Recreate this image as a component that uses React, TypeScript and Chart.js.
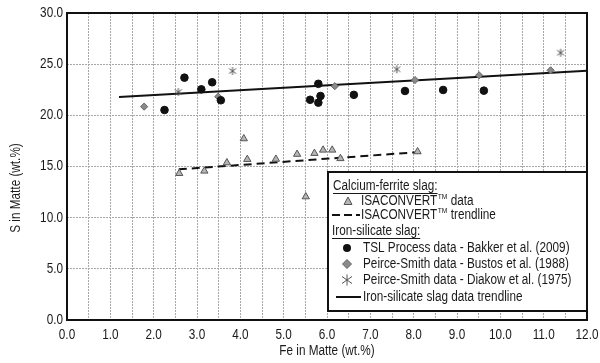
import React, { useEffect, useRef } from 'react';
import { Chart, registerables } from 'chart.js';
Chart.register(...registerables);

// ---- data ----
const isaX = [2.59, 3.17, 3.69, 4.08, 4.16, 4.82, 5.31, 5.51, 5.71, 5.91, 6.12, 6.31, 8.09];
const isaY = [14.33, 14.56, 15.37, 17.72, 15.7, 15.72, 16.2, 12.05, 16.29, 16.61, 16.61, 15.78, 16.45];
const isaTrendX = [2.58, 8.03];
const isaTrendY = [14.72, 16.38];
const tslX = [2.25, 2.71, 3.1, 3.35, 3.55, 5.61, 5.8, 5.8, 5.85, 6.62, 7.8, 8.68, 9.62];
const tslY = [20.52, 23.68, 22.54, 23.23, 21.47, 21.52, 23.08, 21.24, 21.89, 22.0, 22.38, 22.48, 22.41];
const bustosX = [1.78, 3.49, 6.18, 8.03, 9.51, 11.16];
const bustosY = [20.85, 21.82, 22.85, 23.45, 23.91, 24.4];
const diakowX = [2.57, 3.82, 7.61, 11.39];
const diakowY = [22.28, 24.33, 24.5, 26.12];
const silTrendX = [1.2, 12.0];
const silTrendY = [21.8, 24.36];
const xTickMin = 0;
const xTickMax = 12;
const yTickMin = 0;
const yTickMax = 30;
const xTitle = 'Fe in Matte (wt.%)';
const yTitle = 'S in Matte (wt.%)';

const FONT = '"Liberation Sans", Arial, sans-serif';
const K = 0.84; // horizontal condensing of the narrow typeface

const pts = (xs: number[], ys: number[]) => xs.map((x, i) => ({ x, y: ys[i] }));

function makeAsterisk(): HTMLCanvasElement {
  const c = document.createElement('canvas');
  c.width = 10;
  c.height = 10;
  const g = c.getContext('2d')!;
  g.strokeStyle = '#555';
  g.lineWidth = 1;
  g.beginPath();
  g.moveTo(5, 1); g.lineTo(5, 9);
  g.moveTo(1.5, 2.5); g.lineTo(8.5, 7.5);
  g.moveTo(1.5, 7.5); g.lineTo(8.5, 2.5);
  g.stroke();
  return c;
}

function cText(ctx: CanvasRenderingContext2D, t: string, x: number, y: number, align: CanvasTextAlign) {
  ctx.save();
  ctx.translate(x, y);
  ctx.scale(K, 1);
  ctx.textAlign = align;
  ctx.fillText(t, 0, 0);
  ctx.restore();
}

const overlay = {
  id: 'overlay',
  afterDraw(chart: any) {
    const ctx = chart.ctx as CanvasRenderingContext2D;
    const a = chart.chartArea;
    const xs = chart.scales.x;
    const ys = chart.scales.y;
    ctx.save();
    // plot border
    ctx.strokeStyle = '#111';
    ctx.lineWidth = 2;
    ctx.strokeRect(a.left, a.top, a.right - a.left, a.bottom - a.top);

    // tick labels
    ctx.fillStyle = '#1a1a1a';
    ctx.font = `14px ${FONT}`;
    ctx.textBaseline = 'middle';
    xs.ticks.forEach((t: any) => {
      if (Number.isInteger(t.value)) {
        cText(ctx, Number(t.value).toFixed(1), xs.getPixelForValue(t.value), a.bottom + 15, 'center');
      }
    });
    ys.ticks.forEach((t: any) => {
      cText(ctx, Number(t.value).toFixed(1), a.left - 4, ys.getPixelForValue(t.value), 'right');
    });

    // axis titles
    cText(ctx, xTitle, (a.left + a.right) / 2, 351, 'center');
    ctx.save();
    ctx.translate(16, 188);
    ctx.rotate(-Math.PI / 2);
    cText(ctx, yTitle, 0, 0, 'center');
    ctx.restore();

    // legend box
    const lx = 328, ly = 172, lw = a.right - 328, lh = 139;
    ctx.fillStyle = '#fff';
    ctx.fillRect(lx, ly, lw, lh);
    ctx.strokeStyle = '#111';
    ctx.lineWidth = 2;
    ctx.strokeRect(lx, ly, lw, lh);

    ctx.fillStyle = '#1a1a1a';
    ctx.font = `14px ${FONT}`;
    const underlined = (t: string, x: number, y: number) => {
      cText(ctx, t, x, y, 'left');
      const w = ctx.measureText(t).width * K;
      ctx.lineWidth = 1;
      ctx.strokeStyle = '#1a1a1a';
      ctx.beginPath();
      ctx.moveTo(x, y + 7.5);
      ctx.lineTo(x + w, y + 7.5);
      ctx.stroke();
    };
    const tmText = (pre: string, post: string, x: number, y: number) => {
      ctx.font = `14px ${FONT}`;
      cText(ctx, pre, x, y, 'left');
      let cx = x + ctx.measureText(pre).width * K + 0.5;
      ctx.font = `8px ${FONT}`;
      cText(ctx, 'TM', cx, y - 4, 'left');
      cx += ctx.measureText('TM').width * K;
      ctx.font = `14px ${FONT}`;
      cText(ctx, post, cx, y, 'left');
    };

    const tx = 363;
    underlined('Calcium-ferrite slag:', 333, 186);
    // triangle
    ctx.beginPath();
    ctx.moveTo(348, 197);
    ctx.lineTo(352, 204.5);
    ctx.lineTo(344, 204.5);
    ctx.closePath();
    ctx.fillStyle = '#b5b5b5';
    ctx.fill();
    ctx.strokeStyle = '#555';
    ctx.lineWidth = 1;
    ctx.stroke();
    ctx.fillStyle = '#1a1a1a';
    tmText('ISACONVERT', ' data', 361, 201);
    // dashed line
    ctx.save();
    ctx.strokeStyle = '#111';
    ctx.lineWidth = 2;
    ctx.setLineDash([8, 4]);
    ctx.beginPath();
    ctx.moveTo(332, 215);
    ctx.lineTo(360, 215);
    ctx.stroke();
    ctx.restore();
    tmText('ISACONVERT', ' trendline', 361, 215);

    underlined('Iron-silicate slag:', 332, 231);
    // circle
    ctx.fillStyle = '#111';
    ctx.beginPath();
    ctx.arc(347, 248, 4, 0, Math.PI * 2);
    ctx.fill();
    ctx.fillStyle = '#1a1a1a';
    cText(ctx, 'TSL Process data - Bakker et al. (2009)', tx, 248, 'left');
    // diamond
    ctx.beginPath();
    ctx.moveTo(347, 259.5);
    ctx.lineTo(351.5, 264);
    ctx.lineTo(347, 268.5);
    ctx.lineTo(342.5, 264);
    ctx.closePath();
    ctx.fillStyle = '#8a8a8a';
    ctx.fill();
    ctx.strokeStyle = '#666';
    ctx.stroke();
    ctx.fillStyle = '#1a1a1a';
    cText(ctx, 'Peirce-Smith data - Bustos et al. (1988)', tx, 264, 'left');
    // asterisk
    ctx.strokeStyle = '#555';
    ctx.lineWidth = 1;
    ctx.beginPath();
    ctx.moveTo(347, 274.5); ctx.lineTo(347, 285.5);
    ctx.moveTo(342, 276.5); ctx.lineTo(352, 283.5);
    ctx.moveTo(342, 283.5); ctx.lineTo(352, 276.5);
    ctx.stroke();
    cText(ctx, 'Peirce-Smith data - Diakow et al. (1975)', tx, 280, 'left');
    // solid line
    ctx.strokeStyle = '#111';
    ctx.lineWidth = 2;
    ctx.beginPath();
    ctx.moveTo(336, 297);
    ctx.lineTo(361, 297);
    ctx.stroke();
    cText(ctx, 'Iron-silicate slag data trendline', tx, 297, 'left');
    ctx.restore();
  },
};

export default function App() {
  const ref = useRef<HTMLCanvasElement | null>(null);
  useEffect(() => {
    document.body.style.margin = '0';
    const canvas = ref.current!;
    const star = makeAsterisk();
    const chart = new Chart(canvas, {
      type: 'scatter',
      data: {
        datasets: [
          {
            label: 'ISACONVERT data',
            data: pts(isaX, isaY),
            pointStyle: 'triangle',
            pointRadius: 4.2,
            backgroundColor: '#b5b5b5',
            borderColor: '#555',
            borderWidth: 1,
            order: 1,
          },
          {
            label: 'TSL Process data',
            data: pts(tslX, tslY),
            pointStyle: 'circle',
            pointRadius: 3.8,
            backgroundColor: '#111',
            borderColor: '#111',
            borderWidth: 1,
            order: 1,
          },
          {
            label: 'Bustos',
            data: pts(bustosX, bustosY),
            pointStyle: 'rectRot',
            pointRadius: 3.6,
            backgroundColor: '#8a8a8a',
            borderColor: '#666',
            borderWidth: 1,
            order: 1,
          },
          {
            label: 'Diakow',
            data: pts(diakowX, diakowY),
            pointStyle: star as any,
            pointRadius: 5,
            order: 1,
          },
          {
            type: 'line',
            label: 'ISACONVERT trendline',
            data: pts(isaTrendX, isaTrendY),
            borderColor: '#111',
            borderWidth: 2,
            borderDash: [8, 5],
            pointRadius: 0,
            showLine: true,
            fill: false,
            order: 5,
          } as any,
          {
            type: 'line',
            label: 'Iron-silicate trendline',
            data: pts(silTrendX, silTrendY),
            borderColor: '#111',
            borderWidth: 2,
            pointRadius: 0,
            showLine: true,
            fill: false,
            order: 5,
          } as any,
        ],
      },
      options: {
        responsive: false,
        animation: false,
        devicePixelRatio: 1,
        layout: { padding: { left: 0, top: 13, right: 13, bottom: 0 } },
        plugins: { legend: { display: false }, tooltip: { enabled: false } },
        scales: {
          x: {
            type: 'linear',
            min: xTickMin,
            max: xTickMax,
            afterFit: (s: any) => { s.height = 43; },
            ticks: { display: false, stepSize: 0.5, autoSkip: false },
            grid: { color: '#a8a8a8', lineWidth: 1, drawTicks: false },
            border: { display: false, dash: [2, 1] },
          },
          y: {
            type: 'linear',
            min: yTickMin,
            max: yTickMax,
            afterFit: (s: any) => { s.width = 67; },
            ticks: { display: false, stepSize: 5 },
            grid: { color: '#a8a8a8', lineWidth: 1, drawTicks: false },
            border: { display: false, dash: [2, 1] },
          },
        },
      },
      plugins: [overlay],
    });
    return () => chart.destroy();
  }, []);
  return (
    <div style={{ width: 600, height: 363, background: '#fff' }}>
      <canvas ref={ref} width={600} height={363} style={{ display: 'block' }} />
    </div>
  );
}
